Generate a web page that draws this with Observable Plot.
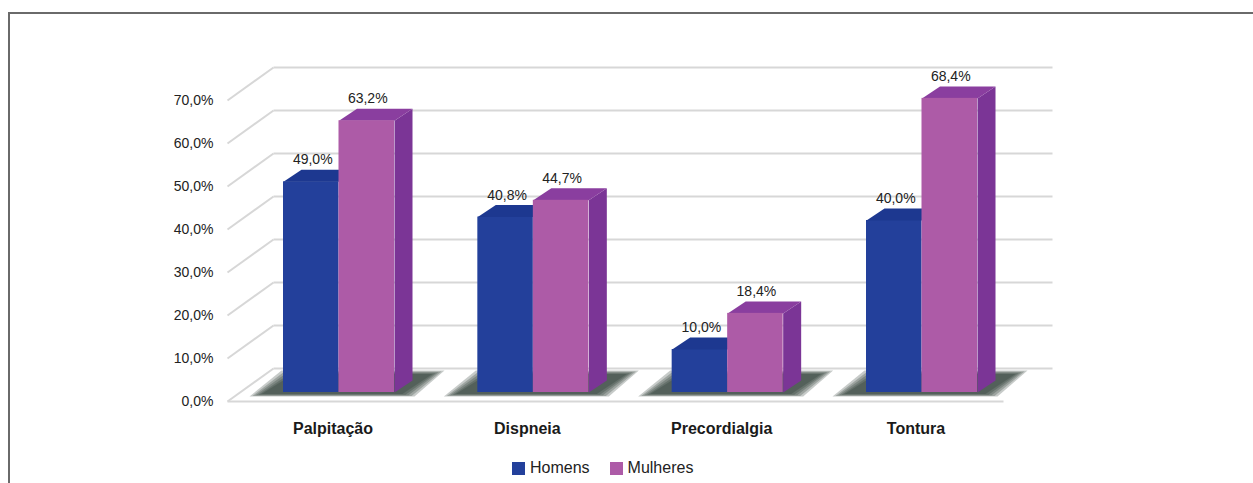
<!DOCTYPE html>
<html><head><meta charset="utf-8">
<script src="https://cdn.jsdelivr.net/npm/d3@7"></script>
<script src="https://cdn.jsdelivr.net/npm/@observablehq/plot@0.6"></script>
<style>
body{margin:0;background:#fff;font-family:"Liberation Sans",Arial,sans-serif;width:1253px;height:483px;overflow:hidden;position:relative;}
#frame{position:absolute;left:8px;top:12px;width:1300px;height:500px;border-top:2px solid #6a6a6a;border-left:2px solid #6a6a6a;}
#chart{position:absolute;left:0;top:0;}
#legend{position:absolute;top:459px;left:512px;display:flex;align-items:center;font-size:16px;color:#222;}
.sw{width:13px;height:13px;display:inline-block;margin-right:5px;}
.item{display:flex;align-items:center;margin-right:20px;}
</style></head><body>
<div id="frame"></div>
<div id="chart"></div>
<div id="legend"></div>
<script>
// ---- data ----
const categories = ["Palpitação", "Dispneia", "Precordialgia", "Tontura"];
const homens = [49.0, 40.8, 10.0, 40.0];
const mulheres = [63.2, 44.7, 18.4, 68.4];
const seriesNames = ["Homens", "Mulheres"];
const yTicks = [0, 10, 20, 30, 40, 50, 60, 70];

// ---- colours ----
const C = {
  blueFront: "#23409b", blueTop: "#1d3890",
  pinkFront: "#ad5ba7", pinkTop: "#8a3e9f", pinkSide: "#7b3596",
  grid: "#d7d7d7", text: "#222", shadow: "#1f2e26"
};

// ---- layout (pixel) ----
const X0 = 338.5, X3 = 921.5, Y0 = 392, Y70 = 91;
const XSTEP = (X3 - X0) / 3, YUNIT = (Y0 - Y70) / 70;
const ox = px => px / XSTEP;
const oy = px => px / YUNIT;
const hw = ox(55.5);
const dX = ox(18), dY = oy(12);
const pxX = px => (px - X0) / XSTEP;

const fmt = v => v.toFixed(1).replace(".", ",") + "%";

const idx = categories.map((c, i) => i);
function poly(list) {
  const out = [];
  list.forEach(([id, pts]) => pts.forEach(([x, y]) => out.push({id, x, y})));
  return out;
}
// soft shadow: nested layers
const shadowLayers = [0, 1, 2, 3, 4].map(k => {
  const s = 10 - k * 3; // outward spread in px
  return poly(idx.map(i => [i, [
    [i - hw + ox(-24 - s), -oy(2 + s * 0.2)], [i + hw + ox(10 + s), -oy(2 + s * 0.2)],
    [i + hw + ox(40 + s), oy(19 + s * 0.3)], [i - hw + ox(8 - s), oy(19 + s * 0.3)]
  ]]));
});
const blueTop = poly(idx.map(i => [i, [
  [i - hw, homens[i]], [i, homens[i]], [i + dX, homens[i] + dY], [i - hw + dX, homens[i] + dY]
]]));
const pinkSide = poly(idx.map(i => [i, [
  [i + hw, 0], [i + hw, mulheres[i]], [i + hw + dX, mulheres[i] + dY], [i + hw + dX, dY]
]]));
const pinkTop = poly(idx.map(i => [i, [
  [i, mulheres[i]], [i + hw, mulheres[i]], [i + hw + dX, mulheres[i] + dY], [i + dX, mulheres[i] + dY]
]]));

const chart = Plot.plot({
  width: 1253, height: 445,
  style: {fontFamily: "'Liberation Sans', Arial, sans-serif", background: "transparent", color: C.text},
  x: {type: "linear", domain: [0, 3], range: [X0, X3], axis: null},
  y: {domain: [0, 70], range: [Y0, Y70], axis: null},
  marks: [
    Plot.link(yTicks, {x1: pxX(273), x2: pxX(1052), y1: d => d + oy(24), y2: d => d + oy(24), stroke: C.grid, strokeWidth: 2}),
    Plot.link(yTicks, {x1: pxX(227), y1: d => d - oy(9), x2: pxX(273), y2: d => d + oy(24), stroke: C.grid, strokeWidth: 2}),
    Plot.link([0], {x1: pxX(227), x2: pxX(1003), y1: d => d - oy(9), y2: d => d - oy(9), stroke: C.grid, strokeWidth: 2}),
    ...shadowLayers.map(L => Plot.line(L, {x: "x", y: "y", z: "id", fill: C.shadow, fillOpacity: 0.25, stroke: "none"})),
    Plot.rect(idx, {x1: i => i - hw, x2: i => i, y1: 0, y2: i => homens[i], fill: C.blueFront}),
    Plot.line(blueTop, {x: "x", y: "y", z: "id", fill: C.blueTop, stroke: "none"}),
    Plot.line(pinkSide, {x: "x", y: "y", z: "id", fill: C.pinkSide, stroke: "none"}),
    Plot.line(pinkTop, {x: "x", y: "y", z: "id", fill: C.pinkTop, stroke: "none"}),
    Plot.rect(idx, {x1: i => i, x2: i => i + hw, y1: 0, y2: i => mulheres[i], fill: C.pinkFront}),
    Plot.text(idx, {x: i => i - hw / 2 + ox(1.5), y: i => homens[i], dy: -22, text: i => fmt(homens[i]), fontSize: 14, fill: C.text}),
    Plot.text(idx, {x: i => i + hw / 2 + ox(1), y: i => mulheres[i], dy: -22, text: i => fmt(mulheres[i]), fontSize: 14, fill: C.text}),
    Plot.text(yTicks, {x: pxX(213), y: d => d, dy: 9, text: fmt, textAnchor: "end", fontSize: 14, fill: C.text}),
    Plot.text(idx, {x: i => i, y: 0, dy: 36, dx: -6, text: i => categories[i], fontSize: 16, fontWeight: "bold", fill: "#1a1a1a"})
  ]
});
document.getElementById("chart").appendChild(chart);

const legendColors = [C.blueFront, C.pinkFront];
const lg = d3.select("#legend");
seriesNames.forEach((s, k) => {
  const it = lg.append("div").attr("class", "item");
  it.append("span").attr("class", "sw").style("background", legendColors[k]);
  it.append("span").text(s);
});
</script>
</body></html>
